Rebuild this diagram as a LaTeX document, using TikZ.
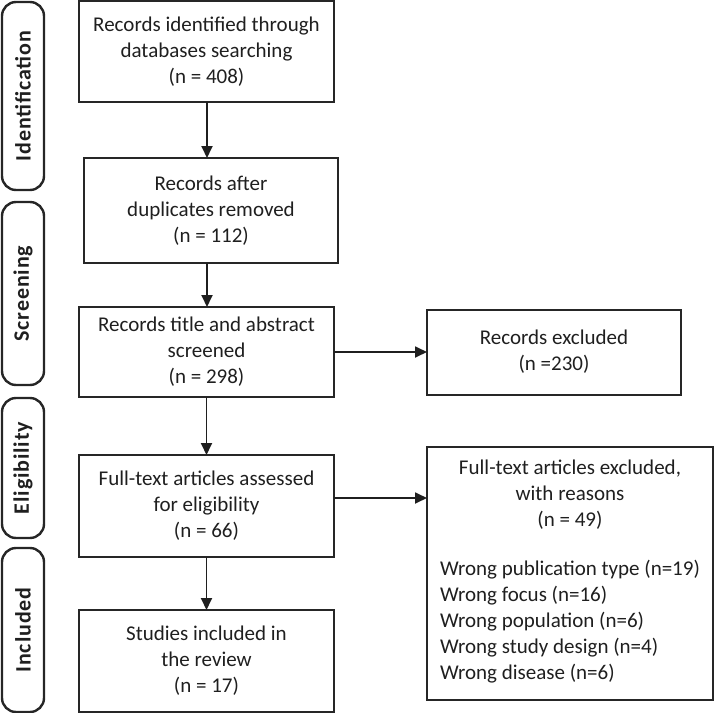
\documentclass[tikz,border=0pt]{standalone}
\usepackage{fontspec}
\setmainfont{Carlito}
\usetikzlibrary{arrows.meta,positioning}

\begin{document}
\begin{tikzpicture}[x=0.5pt, y=-0.5pt,
  font=\fontsize{10.5}{13}\selectfont,
  box/.style={draw=black!85, line width=1pt, align=center, inner sep=3pt, outer sep=0pt, minimum width=127.5pt, text=black!88},
  phase/.style={draw=black!85, line width=1.2pt, rounded corners=7pt, rotate=90, minimum height=21pt, outer sep=0pt, text=black!88, font=\fontsize{11}{13}\selectfont\bfseries\addfontfeature{LetterSpace=4}},
  arr/.style={-{Triangle[length=6pt, width=5.5pt]}, line width=0.9pt, draw=black!88},
  node distance=20pt]
\useasboundingbox (0,0) rectangle (714,713);
% main column
\node[box, minimum height=50.5pt] (b1) at (206.5,51.5) {Records identified through\\databases searching\\(n = 408)};
\node[box, minimum height=52.5pt, minimum width=127pt, below=28pt of b1, xshift=2.25pt] (b2) {Records after\\duplicates removed\\(n = 112)};
\node[box, minimum height=45pt, below=22pt of b2, xshift=-2.25pt] (b3) {Records title and abstract\\screened\\(n = 298)};
\node[box, minimum height=51pt, below=29pt of b3] (b4) {Full-text articles assessed\\for eligibility\\(n = 66)};
\node[box, minimum height=51pt, below=26.5pt of b4] (b5) {Studies included in\\the review\\(n = 17)};
% exclusions
\node[box, minimum height=42.5pt, minimum width=127pt, right=46.5pt of b3] (ex1) {Records excluded\\(n =230)};
\node[box, minimum height=126.5pt, minimum width=143pt, right=46.5pt of b4.north east, anchor=north west, yshift=4pt] (ex2) {Full-text articles excluded,\\with reasons\\(n = 49)\\[13pt]
  \begin{tabular}{@{}l@{}}Wrong publication type (n=19)\\Wrong focus (n=16)\\Wrong population (n=6)\\Wrong study design (n=4)\\Wrong disease (n=6)\end{tabular}};
% phases
\node[phase, minimum width=94pt] (p1) at (23,96) {Identification};
\node[phase, minimum width=91.5pt] (p2) at (23,293.5) {Screening};
\node[phase, minimum width=70pt] (p3) at (23,468) {Eligibility};
\node[phase, minimum width=82pt] (p4) at (23,630) {Included};
% arrows
\draw[arr] (b1.south -| 207,0) -- (b2.north -| 207,0);
\draw[arr] (b2.south -| 207,0) -- (b3.north -| 207,0);
\draw[arr] (b3) -- (b4);
\draw[arr] (b4) -- (b5);
\draw[arr] (b3) -- (ex1);
\draw[arr] ([yshift=4pt]b4.east) -- ([yshift=4pt]b4.east -| ex2.west);
\end{tikzpicture}
\end{document}
